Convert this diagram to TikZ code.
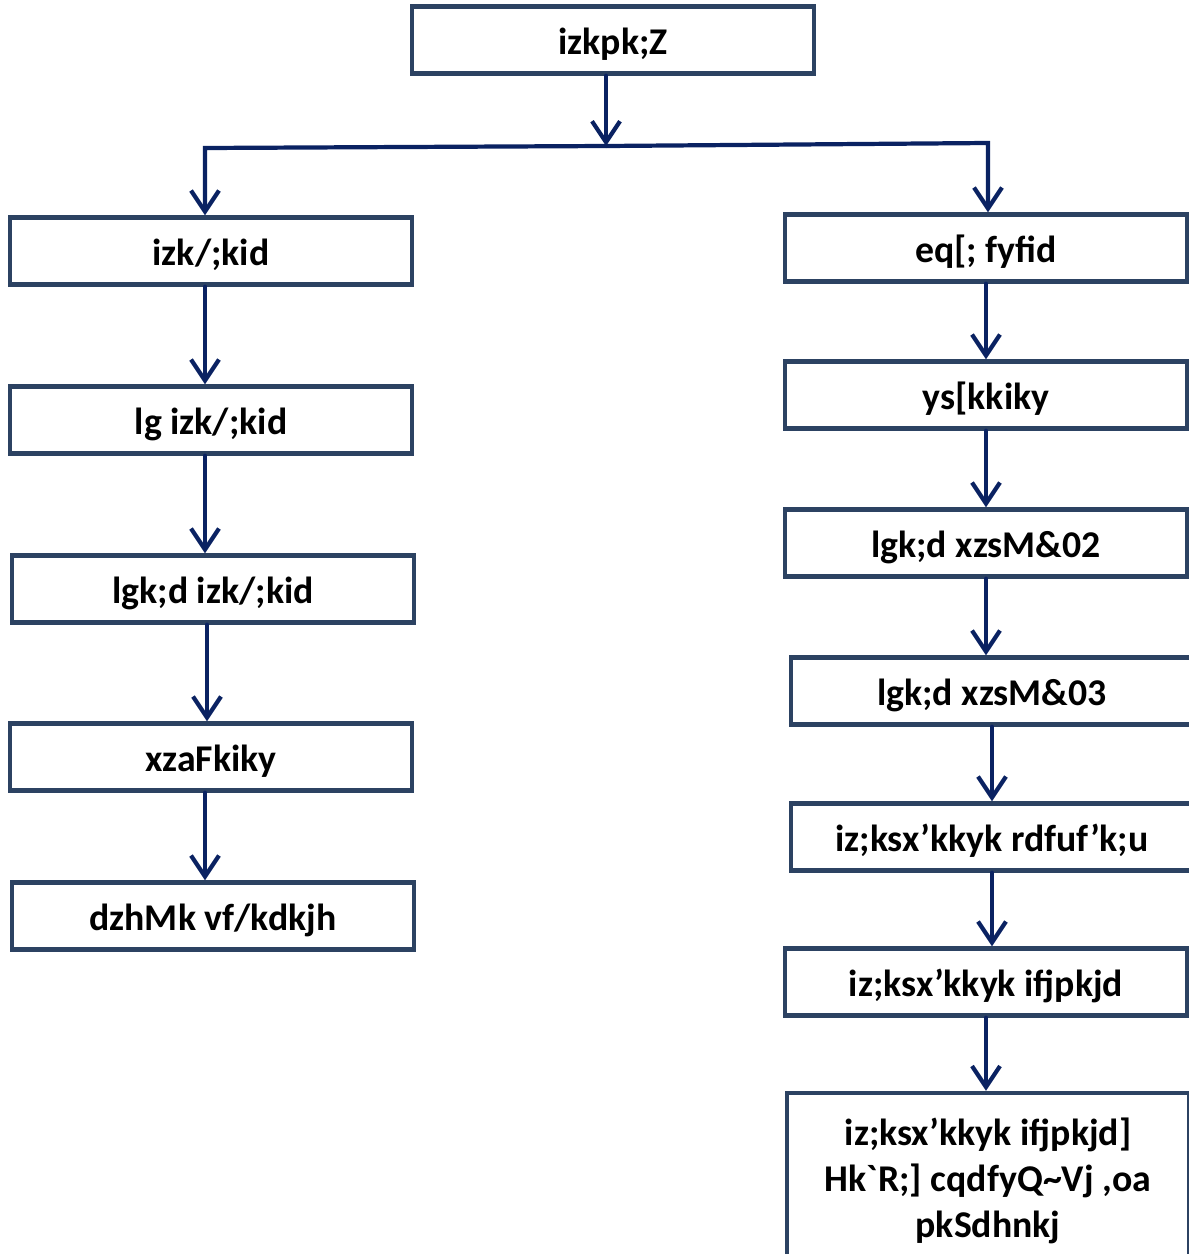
\documentclass[tikz,border=0pt]{standalone}
\usepackage{fontspec}
\setmainfont{Carlito}
\usetikzlibrary{arrows.meta}
\definecolor{boxline}{HTML}{2C4262}
\definecolor{arrline}{HTML}{0A2262}
\begin{document}
\begin{tikzpicture}[x=0.02cm,y=-0.02cm, font=\fontsize{21.5}{26}\selectfont\bfseries,
	post/.style={draw=boxline, line width=2.5pt, fill=white, minimum width=8.04cm, minimum height=1.34cm, inner sep=0pt},
	onepost/.style={post, text height=20pt, text depth=3pt},
	arr/.style={draw=arrline, line width=2.4pt, line cap=round, -{Straight Barb[length=0.42cm,width=0.56cm]}}]
	\useasboundingbox (0,0) rectangle (1189,1254);
	\clip (0,0) rectangle (1189,1254);
	% top
	\node[onepost] (top) at (613,40) {izkpk;Z};
	\coordinate (jl) at (205,148);
	\coordinate (jm) at (606,146);
	\coordinate (jr) at (988,143);
	% left column
	\node[onepost] (l1) at (211,251) {izk/;kid};
	\node[onepost] (l2) at (211,420) {lg izk/;kid};
	\node[onepost] (l3) at (213,589) {lgk;d izk/;kid};
	\node[onepost] (l4) at (211,757) {xzaFkiky};
	\node[onepost] (l5) at (213,916) {dzhMk vf/kdkjh};
	% right column
	\node[onepost] (r1) at (986,248) {eq[; fyfid};
	\node[onepost] (r2) at (986,395) {ys[kkiky};
	\node[onepost] (r3) at (986,543) {lgk;d xzsM\&02};
	\node[onepost] (r4) at (992,691) {lgk;d xzsM\&03};
	\node[onepost] (r5) at (992,837) {iz;ksx’kkyk rdfuf’k;u};
	\node[onepost] (r6) at (986,982) {iz;ksx’kkyk ifjpkjd};
	\node[post, align=center, minimum height=3.52cm] (r7) at (988,1181) {iz;ksx’kkyk ifjpkjd]\\Hk\textasciigrave{}R;] cqdfyQ\textasciitilde{}Vj ,oa\\pkSdhnkj};
	% connectors
	\draw[arr] (top.south -| jm) -- (jm);
	\draw[arr, line join=miter] (jm) -- (jl) -- (jl |- l1.north);
	\draw[arr, line join=miter] (jm) -- (jr) -- (jr |- r1.north);
	\foreach \a/\b in {l1/l2,l2/l3,l3/l4,l4/l5}
		\draw[arr] ([xshift=-0.12cm]\a.south) -- ([xshift=-0.12cm]\a.south |- \b.north);
	\foreach \a/\b in {r1/r2,r2/r3,r3/r4,r4/r5,r5/r6,r6/r7}
		\draw[arr] (\a.south) -- (\a.south |- \b.north);
\end{tikzpicture}
\end{document}
